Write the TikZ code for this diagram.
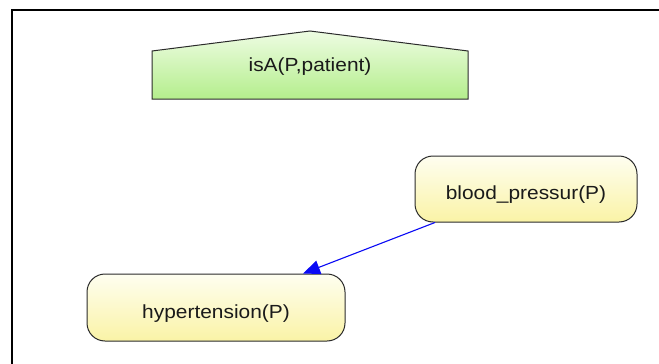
\documentclass[tikz,border=0pt]{standalone}
\usepackage{fontspec}
\setmainfont{Liberation Sans}
\newfontfamily\nodefont[FakeStretch=1.1]{Liberation Sans}
\usetikzlibrary{arrows.meta}

\definecolor{boxline}{HTML}{2B2B2B}
\definecolor{yelTop}{HTML}{FEFEF0}
\definecolor{yelBot}{HTML}{FAF3A6}
\definecolor{grnTop}{HTML}{EEFCE3}
\definecolor{grnBot}{HTML}{B4EE8C}
\definecolor{linkblue}{HTML}{0A0AF5}
\definecolor{txt}{HTML}{1A1A1A}

\tikzset{
  lbl/.style={font=\nodefont\fontsize{19}{22}\selectfont, text=txt, inner sep=0pt},
  statebox/.style={lbl, draw=boxline, line width=1pt, rounded corners=18pt,
    top color=yelTop, bottom color=yelBot},
  link/.style={draw=linkblue, line width=1.1pt,
    -{Triangle[length=17pt,width=14pt]}},
}

\newcommand{\lowtext}[1]{\raisebox{-6pt}[\height][\depth]{#1}}

\begin{document}
\begin{tikzpicture}[x=1pt,y=-1pt]
  \useasboundingbox (0,0) rectangle (659,364);
  \fill[white] (0,0) rectangle (659,364);

  % canvas frame (left and top edges)
  \draw[line width=2pt, black] (12,364) -- (12,9.5) -- (659,9.5);

  % context node with a roof-shaped top
  \draw[boxline, line width=1pt, top color=grnTop, bottom color=grnBot]
    (152,99) -- (152,51) -- (310,31) -- (468,51) -- (468,99) -- cycle;
  \node[lbl] (isa) at (310,67) {isA(P,patient)};

  % state nodes
  \node[statebox, minimum width=222pt, minimum height=66pt] (bp) at (526,189)
    {\lowtext{blood\_pressur(P)}};
  \node[statebox, minimum width=258pt, minimum height=67pt] (hy) at (216,307.5)
    {\lowtext{hypertension(P)}};

  \draw[link] ([xshift=-91pt]bp.south) -- ([xshift=87pt]hy.north);
\end{tikzpicture}
\end{document}
